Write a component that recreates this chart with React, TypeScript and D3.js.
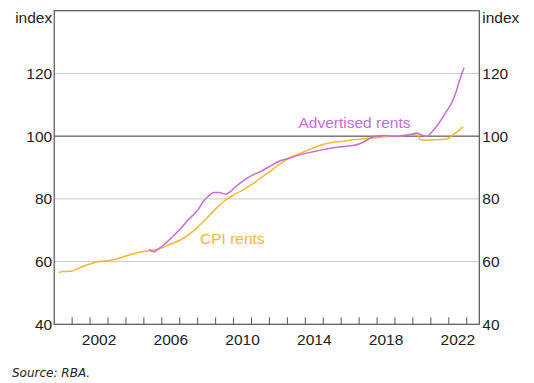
import React from "react";
import * as d3 from "d3";

const cpiTime = [2000.25, 2000.5, 2000.9, 2001.5, 2002.0, 2002.5, 2003.0, 2003.5, 2004.0, 2004.5, 2005.0, 2005.5, 2006.0, 2006.5, 2007.0, 2007.5, 2008.0, 2008.5, 2009.0, 2009.5, 2010.0, 2010.5, 2011.0, 2011.5, 2012.0, 2012.5, 2013.0, 2013.5, 2014.0, 2014.5, 2015.0, 2015.5, 2016.0, 2016.5, 2017.0, 2017.5, 2018.0, 2018.5, 2019.0, 2019.5, 2020.0, 2020.25, 2020.4, 2020.75, 2021.0, 2021.5, 2021.9, 2022.2, 2022.5, 2022.8];
const cpiValue = [56.5, 56.8, 56.9, 58.2, 59.2, 60.0, 60.3, 60.8, 61.8, 62.6, 63.2, 63.6, 64.4, 65.6, 66.8, 68.6, 71.0, 73.8, 76.8, 79.4, 81.2, 82.8, 84.5, 86.6, 88.6, 90.8, 92.7, 94.0, 95.2, 96.4, 97.4, 98.0, 98.3, 98.7, 99.0, 99.3, 99.5, 99.9, 100.0, 100.2, 100.5, 100.4, 98.9, 98.7, 98.8, 98.9, 99.1, 100.3, 101.5, 103.1];

const advTime = [2005.3, 2005.55, 2005.8, 2006.1, 2006.5, 2007.0, 2007.5, 2008.0, 2008.3, 2008.6, 2008.9, 2009.2, 2009.55, 2009.8, 2010.0, 2010.5, 2011.0, 2011.5, 2012.0, 2012.5, 2013.0, 2013.5, 2014.0, 2014.5, 2015.0, 2015.5, 2016.0, 2016.5, 2017.0, 2017.3, 2017.6, 2017.9, 2018.4, 2019.0, 2019.5, 2020.0, 2020.2, 2020.5, 2020.8, 2021.0, 2021.3, 2021.6, 2021.9, 2022.15, 2022.4, 2022.6, 2022.85];
const advValue = [63.9, 63.1, 64.0, 65.3, 67.4, 70.2, 73.5, 76.4, 79.0, 80.9, 82.0, 82.0, 81.5, 82.2, 83.3, 85.6, 87.4, 88.7, 90.3, 91.9, 92.8, 93.7, 94.5, 95.1, 95.7, 96.2, 96.6, 96.9, 97.5, 98.3, 99.3, 100.0, 100.2, 99.9, 100.2, 100.7, 101.0, 100.3, 100.0, 101.0, 103.0, 105.4, 108.2, 110.5, 114.0, 117.8, 121.8];

const yTicks = [40, 60, 80, 100, 120];
const xLabels = [2002, 2006, 2010, 2014, 2018, 2022];
const xTickYears = d3.range(2001, 2024);

const W = 534;
const H = 383;
const L = 54.2;
const R = 479.3;
const T = 10.7;
const B = 324.3;

const PURPLE = "#c86bd8";
const ORANGE = "#f4b730";
const TEXT = "#222";
const FONT = "'Liberation Sans', Arial, sans-serif";
const FS = 15.5;

export default function App() {
  const x = d3.scaleLinear().domain([2000, 2023.7]).range([L, R]);
  const y = d3.scaleLinear().domain([40, 140]).range([B, T]);

  const cpi = cpiTime.map((t, i) => [t, cpiValue[i]] as [number, number]);
  const adv = advTime.map((t, i) => [t, advValue[i]] as [number, number]);
  const line = d3
    .line<[number, number]>()
    .x((d) => x(d[0]))
    .y((d) => y(d[1]))
    .curve(d3.curveMonotoneX);

  return (
    <svg
      width={W}
      height={H}
      style={{ position: "absolute", left: 0, top: 0, background: "#fff" }}
      fontFamily={FONT}
    >
      {yTicks
        .filter((v) => v !== 40)
        .map((v) => (
          <line
            key={"g" + v}
            x1={L}
            x2={R}
            y1={y(v)}
            y2={y(v)}
            stroke={v === 100 ? "#333" : "#c8c8c8"}
            strokeWidth={1}
          />
        ))}
      {xTickYears.map((yr) => (
        <line
          key={"t" + yr}
          x1={x(yr)}
          x2={x(yr)}
          y1={B}
          y2={B - 7}
          stroke="#555"
          strokeWidth={1}
        />
      ))}
      <rect x={L} y={T} width={R - L} height={B - T} fill="none" stroke="#555" strokeWidth={1.2} />

      <path d={line(cpi) || ""} fill="none" stroke={ORANGE} strokeWidth={1.5} />
      <path d={line(adv) || ""} fill="none" stroke={PURPLE} strokeWidth={1.5} />

      {yTicks.map((v) => (
        <g key={"yl" + v} fontSize={FS} fill={TEXT}>
          <text x={L - 2} y={y(v)} dy="0.35em" textAnchor="end">
            {v}
          </text>
          <text x={R + 3} y={y(v)} dy="0.35em" textAnchor="start">
            {v}
          </text>
        </g>
      ))}
      <text x={L - 2} y={23} fontSize={FS} fill={TEXT} textAnchor="end">
        index
      </text>
      <text x={R + 3} y={23} fontSize={FS} fill={TEXT} textAnchor="start">
        index
      </text>

      {xLabels.map((yr) => (
        <text key={"xl" + yr} x={x(yr + 0.5)} y={345} fontSize={FS} fill={TEXT} textAnchor="middle">
          {yr}
        </text>
      ))}

      <text x={298.5} y={128} fontSize={FS} fill={PURPLE}>
        Advertised rents
      </text>
      <text x={200} y={243.5} fontSize={FS} fill={ORANGE}>
        CPI rents
      </text>

      <text
        x={12}
        y={377}
        fontSize={12}
        fontStyle="italic"
        fill={TEXT}
        fontFamily="'DejaVu Sans', Verdana, sans-serif"
      >
        Source: RBA.
      </text>
    </svg>
  );
}
